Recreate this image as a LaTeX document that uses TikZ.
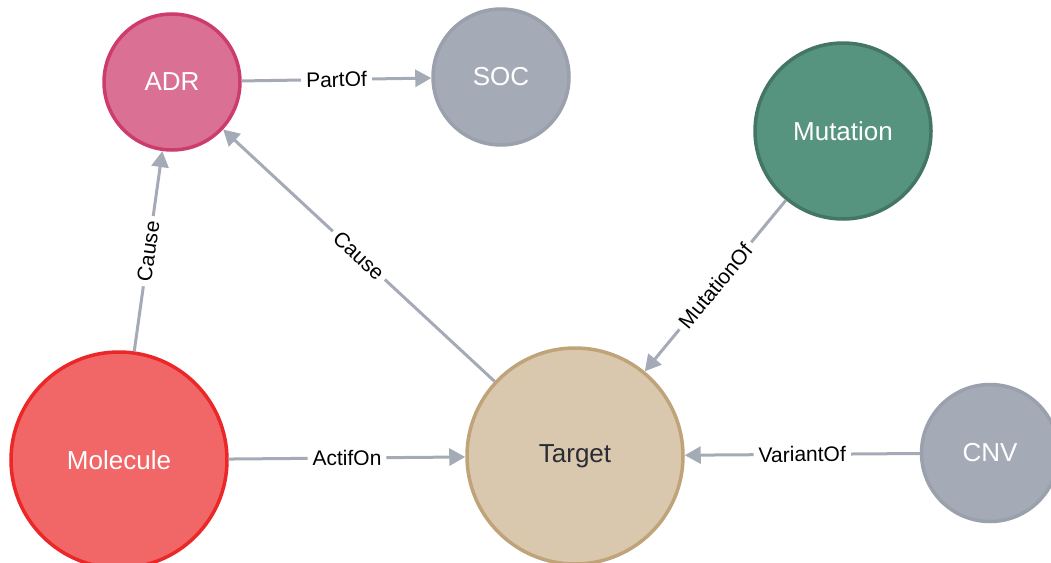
\documentclass[tikz,border=0pt]{standalone}
\usepackage{fontspec}
\setmainfont{Liberation Sans}
\usetikzlibrary{arrows.meta}
\definecolor{edgegray}{HTML}{A5ABB6}
\definecolor{adrfill}{HTML}{DA7194}
\definecolor{adrline}{HTML}{CC3C6C}
\definecolor{grayfill}{HTML}{A5ABB6}
\definecolor{grayline}{HTML}{9AA1AC}
\definecolor{mutfill}{HTML}{569480}
\definecolor{mutline}{HTML}{447666}
\definecolor{molfill}{HTML}{F16667}
\definecolor{molline}{HTML}{EB2728}
\definecolor{tgtfill}{HTML}{D9C8AE}
\definecolor{tgtline}{HTML}{C0A378}
\definecolor{tgttext}{HTML}{2A2C34}
\begin{document}
\begin{tikzpicture}[x=1pt,y=-1pt,
  nd/.style={circle, line width=3.5pt, inner sep=0pt, text=white,
    font=\fontsize{26}{26}\selectfont},
  edge/.style={draw=edgegray, line width=3pt,
    -{Triangle[length=16pt,width=17pt]}},
  lbl/.style={fill=white, text=black, font=\fontsize{21}{21}\selectfont,
    inner sep=5pt, sloped}]
\useasboundingbox (0,0) rectangle (1051,562);
\clip (0,0) rectangle (1051,562);
\node[nd, fill=adrfill, draw=adrline, minimum size=136pt] (adr) at (172,82) {ADR};
\node[nd, fill=grayfill, draw=grayline, minimum size=136pt] (soc) at (501,77) {SOC};
\node[nd, fill=mutfill, draw=mutline, minimum size=176pt] (mut) at (843,131) {Mutation};
\node[nd, fill=molfill, draw=molline, minimum size=216pt] (mol) at (119,460) {Molecule};
\node[nd, fill=tgtfill, draw=tgtline, minimum size=216pt, text=tgttext] (tgt) at (575,456) {Target};
\node[nd, fill=grayfill, draw=grayline, minimum size=137pt] (cnv) at (990,453) {CNV};
\draw[edge] (adr) -- node[lbl] {PartOf} (soc);
\draw[edge] (mol) -- node[lbl] {Cause} (adr);
\draw[edge] (tgt) -- node[lbl] {Cause} (adr);
\draw[edge] (mol) -- node[lbl] {ActifOn} (tgt);
\draw[edge] (mut) -- node[lbl] {MutationOf} (tgt);
\draw[edge] (cnv) -- node[lbl] {VariantOf} (tgt);
\end{tikzpicture}
\end{document}
